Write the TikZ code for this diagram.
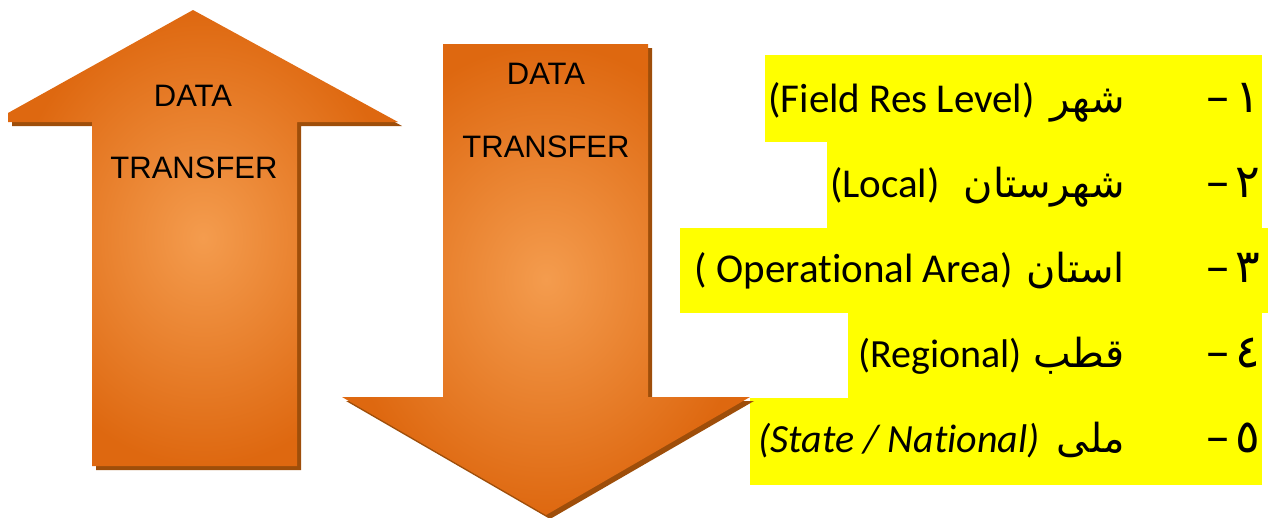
\documentclass[tikz,border=0pt]{standalone}
\usepackage{fontspec}
\usepackage{tikz}
\usetikzlibrary{positioning}
\setmainfont[Ligatures=CommonOff]{Carlito}
\newfontfamily\arrowfont{Liberation Sans}
\newfontfamily\arabicfont[Script=Arabic]{DejaVu Sans}
\TeXXeTstate=1
\definecolor{arrowdark}{RGB}{222,104,16}
\definecolor{arrowlight}{RGB}{244,156,78}
\definecolor{arrowshadow}{RGB}{158,78,10}
\definecolor{lvlyellow}{RGB}{255,255,0}

\begin{document}
\begin{tikzpicture}[x=1pt,y=-1pt,
    shadowpart/.style={fill=arrowshadow},
    bodypart/.style={inner color=arrowlight,outer color=arrowdark},
    arrowtext/.style={font=\arrowfont\fontsize{31}{37}\selectfont,inner sep=0pt},
    lvlbox/.style={fill=lvlyellow},
    lvlnum/.style={font=\arabicfont\fontsize{46}{54}\selectfont,inner sep=0pt,anchor=base east},
    lvlfa/.style={font=\arabicfont\fontsize{40}{48}\selectfont,inner sep=0pt,anchor=base east},
    lvlen/.style={font=\fontsize{41}{49}\selectfont,inner sep=0pt,anchor=base east}]
\useasboundingbox (0,0) rectangle (1268,517);

% yellow bars
\fill[lvlbox] (765,55) rectangle (1262,142);
\fill[lvlbox] (827,142) rectangle (1262,228);
\fill[lvlbox] (680,228) rectangle (1268,313);
\fill[lvlbox] (848,313) rectangle (1262,398);
\fill[lvlbox] (750,398) rectangle (1262,485);

% up arrow
\foreach \d/\sty in {4/shadowpart,0/bodypart}
  \path[\sty,shift={(\d,\d)}] (193,10) -- (398,122) -- (297,122) -- (297,466)
    -- (92,466) -- (92,122) -- (8,122) -- (8,113) -- cycle;
\node[arrowtext] (updata) at (193,96) {DATA};
\node[arrowtext] (uptransfer) at (194,168) {TRANSFER};

% down arrow
\foreach \d/\sty in {4/shadowpart,0/bodypart}
  \path[\sty,shift={(\d,\d)}] (443,44) -- (648,44) -- (648,397) -- (750,397)
    -- (546,515) -- (342,397) -- (443,397) -- cycle;
\node[arrowtext] (downdata) at (546,74) {DATA};
\node[arrowtext] (downtransfer) at (546,147) {TRANSFER};

% levels
\node[lvlnum] (num1) at (1260,112) {–\hspace{6pt}١};
\node[lvlfa] (fa1) at (1125,112) {\beginR شهر\endR};
\node[lvlen] (en1) at (1035,112) {(Field Res Level)};

\node[lvlnum] (num2) at (1260,197) {–\hspace{6pt}٢};
\node[lvlfa] (fa2) at (1125,197) {\beginR شهرستان\endR};
\node[lvlen] (en2) at (940,197) {(Local)};

\node[lvlnum] (num3) at (1260,282) {–\hspace{6pt}٣};
\node[lvlfa] (fa3) at (1125,282) {\beginR استان\endR};
\node[lvlen] (en3) at (1013,282) {( Operational Area)};

\node[lvlnum] (num4) at (1260,367) {–\hspace{6pt}٤};
\node[lvlfa] (fa4) at (1125,367) {\beginR قطب\endR};
\node[lvlen,font=\fontsize{40}{48}\selectfont] (en4) at (1022,367) {(Regional)};

\node[lvlnum] (num5) at (1260,452) {–\hspace{6pt}٥};
\node[lvlfa] (fa5) at (1125,452) {\beginR ملی\endR};
\node[lvlen,font=\fontsize{40}{48}\selectfont\itshape] (en5) at (1040,452) {(State / National)};
\end{tikzpicture}
\end{document}
